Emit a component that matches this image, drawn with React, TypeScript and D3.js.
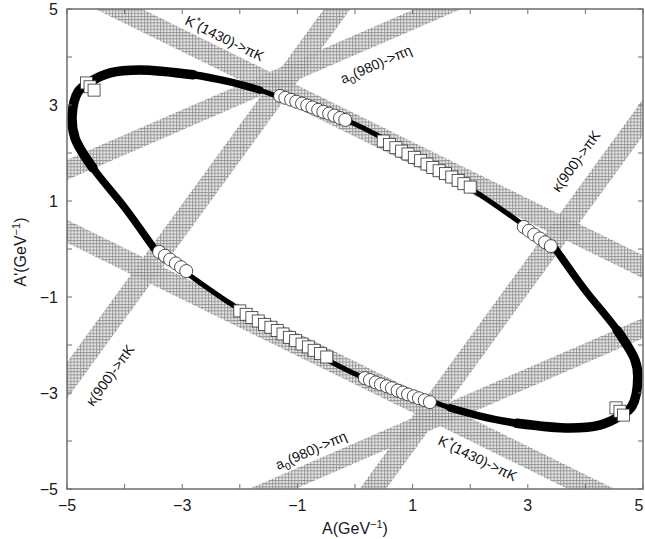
import React from "react";
import * as d3 from "d3";

// axis ticks
const ticks = [-5, -4, -3, -2, -1, 0, 1, 2, 3, 4, 5];
const tickLabels = [-5, -3, -1, 1, 3, 5];

// allowed bands: A' = intercept + slope * A  (+/- half width in A')
const bandNames = ["K*(1430)->πK", "K*(1430)->πK", "a0(980)->πη", "a0(980)->πη", "κ(900)->πK", "κ(900)->πK"];
const bandIntercepts = [2.58, -2.58, 4.25, -4.25, 5.51, -5.51];
const bandSlopes = [-0.59, -0.59, 0.52, 0.52, 1.65, 1.65];
const bandHalfWidths = [0.24, 0.24, 0.21, 0.21, 0.38, 0.38];

// contour (black)
const ellipseA = [-4.91, -4.81, -4.6, -4.25, -3.73, -2.81, -2.17, -1.65, -1.42, -0.75, -0.09, 0.38, 1.25, 2.12, 2.81, 3.47, 3.99, 4.55, 4.86, 4.91,
  4.81, 4.6, 4.25, 3.73, 2.81, 2.17, 1.65, 1.42, 0.75, 0.09, -0.38, -1.25, -2.12, -2.81, -3.47, -3.99, -4.55, -4.86];
const ellipseB = [2.79, 3.27, 3.48, 3.67, 3.73, 3.63, 3.48, 3.31, 3.21, 2.95, 2.65, 2.375, 1.8, 1.17, 0.6, 0.02, -0.85, -1.69, -2.31, -2.67,
  -3.27, -3.48, -3.67, -3.73, -3.63, -3.48, -3.31, -3.21, -2.95, -2.65, -2.375, -1.8, -1.17, -0.6, -0.02, 0.85, 1.69, 2.31];

// open circles
const circleA = [
  [-1.3, -1.21, -1.11, -1.02, -0.92, -0.83, -0.74, -0.64, -0.55, -0.45, -0.36, -0.26, -0.17],
  [2.93, 3.02, 3.11, 3.21, 3.3, 3.4],
  [0.17, 0.26, 0.36, 0.45, 0.55, 0.64, 0.74, 0.83, 0.92, 1.02, 1.11, 1.21, 1.3],
  [-3.4, -3.3, -3.21, -3.11, -3.02, -2.93],
];
const circleB = [
  [3.19, 3.15, 3.11, 3.07, 3.03, 2.99, 2.95, 2.9, 2.86, 2.82, 2.78, 2.73, 2.69],
  [0.46, 0.38, 0.3, 0.22, 0.14, 0.06],
  [-2.69, -2.73, -2.78, -2.82, -2.86, -2.9, -2.95, -2.99, -3.03, -3.07, -3.11, -3.15, -3.19],
  [-0.06, -0.14, -0.22, -0.3, -0.38, -0.46],
];

// open squares
const squareA = [
  [-4.66, -4.6, -4.53],
  [0.49, 0.6, 0.71, 0.81, 0.92, 1.03, 1.14, 1.25, 1.35, 1.46, 1.57, 1.68, 1.79, 1.89, 2.0],
  [-2.0, -1.89, -1.79, -1.68, -1.57, -1.46, -1.35, -1.25, -1.14, -1.03, -0.92, -0.81, -0.71, -0.6, -0.49],
  [4.53, 4.6, 4.66],
];
const squareB = [
  [3.46, 3.38, 3.31],
  [2.25, 2.18, 2.11, 2.04, 1.98, 1.91, 1.84, 1.77, 1.7, 1.63, 1.57, 1.5, 1.43, 1.36, 1.29],
  [-1.29, -1.36, -1.43, -1.5, -1.57, -1.63, -1.7, -1.77, -1.84, -1.91, -1.98, -2.04, -2.11, -2.18, -2.25],
  [-3.31, -3.38, -3.46],
];

const W = 645, H = 539;
const margin = { left: 67, right: 2, top: 9, bottom: 50 };
const font = "'Liberation Sans', Arial, sans-serif";

export default function App() {
  const x = d3.scaleLinear().domain([-5, 5]).range([margin.left, W - margin.right]);
  const y = d3.scaleLinear().domain([-5, 5]).range([H - margin.bottom, margin.top]);
  const [x0, x1] = x.range();
  const [y0, y1] = [y(5), y(-5)];

  const pts = ellipseA.map((a, i) => [a, ellipseB[i]] as [number, number]);
  const n = pts.length;
  const closed = d3.line<[number, number]>().x(d => x(d[0])).y(d => y(d[1])).curve(d3.curveCatmullRomClosed.alpha(0.5));
  const open = d3.line<[number, number]>().x(d => x(d[0])).y(d => y(d[1])).curve(d3.curveCatmullRom.alpha(0.5));
  const arc = (from: number, to: number) => {
    const idx: number[] = [];
    for (let i = from; i !== (to + 1) % n; i = (i + 1) % n) idx.push(i);
    return open(idx.map(i => pts[i])) || "";
  };
  // the contour is wider near its two ends
  const layers = [
    { w: 7.5, arcs: [[34, 7], [15, 26]] },
    { w: 9.5, arcs: [[36, 5], [17, 24]] },
  ];

  const bandPoly = (i: number) => {
    const f = (a: number) => bandIntercepts[i] + bandSlopes[i] * a;
    const h = bandHalfWidths[i];
    return [[-7, f(-7) + h], [7, f(7) + h], [7, f(7) - h], [-7, f(-7) - h]]
      .map(p => `${x(p[0])},${y(p[1])}`).join(" ");
  };

  const tk = 5;
  const axisColor = "#6e6e6e";

  return (
    <svg width={W} height={H} style={{ position: "absolute", left: 0, top: 0, background: "#fff" }} fontFamily={font}>
      <defs>
        <clipPath id="plot"><rect x={x0} y={y0} width={x1 - x0} height={y1 - y0} /></clipPath>
        <pattern id="hatch" width={3.2} height={3.2} patternUnits="userSpaceOnUse">
          <rect width={3.2} height={3.2} fill="#e6e6e6" />
          <path d="M0,0.5H3.2M0.5,0V3.2" stroke="#8a8a8a" strokeWidth={0.9} fill="none" />
        </pattern>
      </defs>

      <g clipPath="url(#plot)">
        {bandNames.map((b, i) => (
          <polygon key={i} points={bandPoly(i)} fill="url(#hatch)" fillOpacity={0.9} />
        ))}
        <path d={closed(pts) || ""} fill="none" stroke="#000" strokeWidth={5} />
        {layers.map((l, k) => l.arcs.map(([a, b], j) => (
          <path key={`${k}-${j}`} d={arc(a, b)} fill="none" stroke="#000" strokeWidth={l.w} strokeLinecap="round" />
        )))}
        {squareA.map((seg, s) => seg.map((a, j) => (
          <rect key={`s${s}-${j}`} x={x(a) - 6} y={y(squareB[s][j]) - 6} width={12} height={12}
            fill="#fff" stroke="#333" strokeWidth={0.8} />
        )))}
        {circleA.map((seg, s) => seg.map((a, j) => (
          <circle key={`c${s}-${j}`} cx={x(a)} cy={y(circleB[s][j])} r={6.5}
            fill="#fff" stroke="#222" strokeWidth={0.8} />
        )))}
      </g>

      {/* band labels */}
      <g fontSize={14} fill="#111">
        <text transform="translate(184,24) rotate(26)">K<tspan dy={-6} fontSize={10}>*</tspan><tspan dy={6}>(1430)-&gt;πK</tspan></text>
        <text transform="translate(437,444) rotate(26)">K<tspan dy={-6} fontSize={10}>*</tspan><tspan dy={6}>(1430)-&gt;πK</tspan></text>
        <text transform="translate(343,84) rotate(-23.5)">a<tspan dy={4} fontSize={10}>0</tspan><tspan dy={-4}>(980)-&gt;πη</tspan></text>
        <text transform="translate(278,470) rotate(-23.5)">a<tspan dy={4} fontSize={10}>0</tspan><tspan dy={-4}>(980)-&gt;πη</tspan></text>
        <text transform="translate(559,193) rotate(-54)">κ(900)-&gt;πK</text>
        <text transform="translate(93,407) rotate(-54)">κ(900)-&gt;πK</text>
      </g>

      {/* frame and ticks */}
      <rect x={x0} y={y0} width={x1 - x0} height={y1 - y0} fill="none" stroke={axisColor} strokeWidth={1.5} />
      {ticks.map(t => (
        <g key={t} stroke={axisColor} strokeWidth={1}>
          <line x1={x(t)} x2={x(t)} y1={y1} y2={y1 - tk} />
          <line x1={x(t)} x2={x(t)} y1={y0} y2={y0 + tk} />
          <line x1={x0} x2={x0 + tk} y1={y(t)} y2={y(t)} />
          <line x1={x1} x2={x1 - tk} y1={y(t)} y2={y(t)} />
        </g>
      ))}
      <g fontSize={16} fill="#1a1a1a">
        {tickLabels.map(t => (
          <text key={`x${t}`} x={Math.min(x(t), W - 6)} y={y1 + 22} textAnchor="middle">{t < 0 ? `−${-t}` : t}</text>
        ))}
        {tickLabels.map(t => (
          <text key={`y${t}`} x={x0 - 9} y={y(t) + 6} textAnchor="end">{t < 0 ? `−${-t}` : t}</text>
        ))}
        <text x={355} y={534} textAnchor="middle">A(GeV<tspan dy={-6} fontSize={11}>−1</tspan><tspan dy={6}>)</tspan></text>
        <text transform="translate(26,252) rotate(-90)" textAnchor="middle">A'(GeV<tspan dy={-6} fontSize={11}>−1</tspan><tspan dy={6}>)</tspan></text>
      </g>
    </svg>
  );
}
